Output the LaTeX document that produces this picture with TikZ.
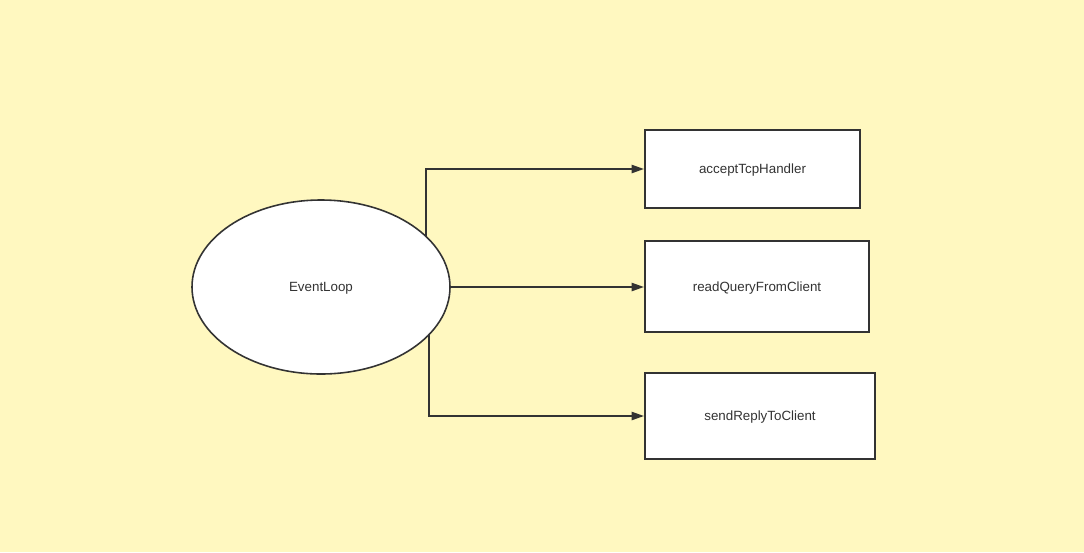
\documentclass[tikz,border=0pt]{standalone}
\usepackage{fontspec}
\setmainfont{Liberation Sans}
\usetikzlibrary{shapes.geometric,arrows.meta}
\definecolor{paper}{RGB}{255,248,192}
\definecolor{ink}{RGB}{51,51,51}
\newlength{\pxu}
\setlength{\pxu}{0.02cm}
\tikzset{
    handler/.style = {draw = ink, fill = white, line width = 1.1pt, text = ink, font = \fontsize{7.6pt}{9pt}\selectfont, text height = 5.5pt, text depth = 0pt, inner sep = 0pt},
    loop/.style = {ellipse, draw = ink, fill = white, line width = 0.9pt, text = ink, font = \fontsize{7.6pt}{9pt}\selectfont, text height = 5.5pt, text depth = 0pt, minimum width = 258\pxu, minimum height = 174\pxu, inner sep = 0pt},
    flow/.style = {draw = ink, line width = 1.1pt, -{Triangle[length = 7pt, width = 4.6pt]}}
}
\begin{document}
\begin{tikzpicture}[x = 0.02cm, y = -0.02cm]
                    \fill[paper] (0, 0) rectangle (1084, 552);
                    \useasboundingbox (0, 0) rectangle (1084, 552);

                    \node[loop] (ev) at (321, 287) {EventLoop};

                    \node[handler, minimum width = 215\pxu, minimum height = 78\pxu] (acc) at (752.5, 169) {acceptTcpHandler};
                    \node[handler, minimum width = 224\pxu, minimum height = 91\pxu] (rq) at (757, 286.5) {readQueryFromClient};
                    \node[handler, minimum width = 230\pxu, minimum height = 86\pxu] (rep) at (760, 416) {sendReplyToClient};

                    \draw[flow] (ev.26) |- (acc.west);
                    \draw[flow] (ev.east) -- (ev.east -| rq.west);
                    \draw[flow] (ev.-24) |- (rep.west);
                \end{tikzpicture}
\end{document}
